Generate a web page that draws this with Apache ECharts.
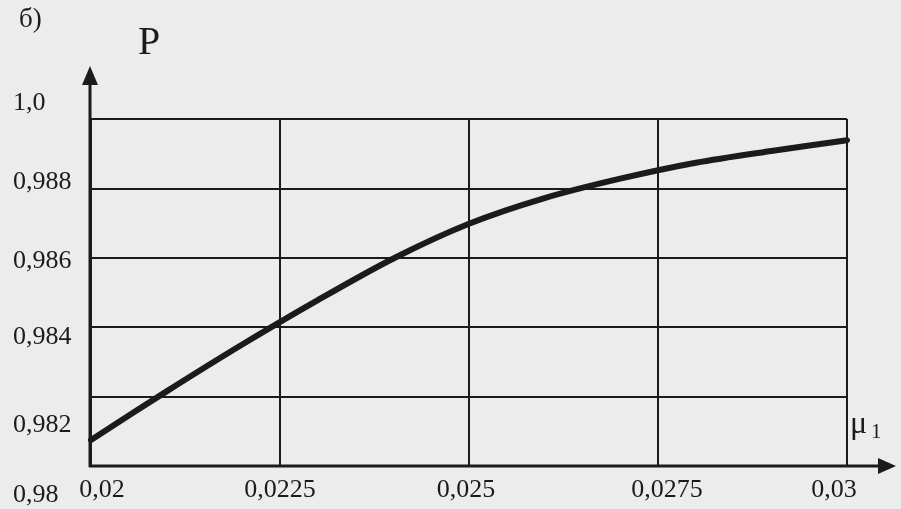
<!DOCTYPE html>
<html>
<head>
<meta charset="utf-8">
<script src="https://cdn.jsdelivr.net/npm/echarts@6/dist/echarts.min.js"></script>
<style>
  html, body { margin: 0; padding: 0; background: #ececec; }
  #chart { width: 901px; height: 509px; }
</style>
</head>
<body>
<div id="chart"></div>
<script>
// Reliability P versus the parameter mu1
const muValues = [0.020, 0.021, 0.022, 0.023, 0.024, 0.025, 0.026, 0.027, 0.028, 0.029, 0.030];
const pValues  = [0.98075, 0.98215, 0.98350, 0.98478, 0.98598, 0.98698, 0.98772, 0.98828, 0.98874, 0.98908, 0.98939];

// Tick labels, as printed
const xTickLabels = ['0,02', '0,0225', '0,025', '0,0275', '0,03'];
const yTickLabels = ['0,98', '0,982', '0,984', '0,986', '0,988', '1,0'];

const X_MIN = 0.02, X_MAX = 0.03, X_STEP = 0.0025;
const Y_MIN = 0.98, Y_MAX = 0.99, Y_STEP = 0.002;

const INK = '#1b1b1b';
const FONT = '"Liberation Serif", "DejaVu Serif", serif';

// per-label nudges (rich text padding) so the labels sit where they were typeset
const yRich = {
  y0: { padding: [58, 0, 0, 0] },
  y1: { padding: [58, 0, 0, 0] },
  y2: { padding: [20, 0, 0, 0] },
  y3: { padding: [6, 0, 0, 0] },
  y4: { padding: [0, 0, 12, 0] },
  y5: { padding: [0, 0, 32, 0] }
};
const xRich = {
  x0: { padding: [0, 0, 0, 22] },
  x1: { padding: [0, 0, 0, 0] },
  x2: { padding: [0, 6, 0, 0] },
  x3: { padding: [0, 0, 0, 18] },
  x4: { padding: [0, 26, 0, 0] }
};

const chart = echarts.init(document.getElementById('chart'), null, { renderer: 'canvas' });

const option = {
  backgroundColor: '#ececec',
  animation: false,
  grid: { left: 91, right: 54, top: 119, bottom: 43, containLabel: false },
  xAxis: {
    type: 'value',
    min: X_MIN, max: X_MAX, interval: X_STEP,
    axisLine: { show: false },
    axisTick: { show: false },
    splitLine: { show: true, lineStyle: { color: INK, width: 2 } },
    axisLabel: {
      show: true, margin: 11, showMinLabel: true, showMaxLabel: true,
      color: INK, fontFamily: FONT, fontSize: 26,
      formatter: v => {
        const i = Math.round((v - X_MIN) / X_STEP);
        return '{x' + i + '|' + xTickLabels[i] + '}';
      },
      rich: xRich
    }
  },
  yAxis: {
    type: 'value',
    min: Y_MIN, max: Y_MAX, interval: Y_STEP,
    axisLine: { show: false },
    axisTick: { show: false },
    splitLine: { show: true, lineStyle: { color: INK, width: 2 } },
    axisLabel: {
      show: true, margin: 78, align: 'left', showMinLabel: true, showMaxLabel: true,
      color: INK, fontFamily: FONT, fontSize: 26,
      formatter: v => {
        const i = Math.round((v - Y_MIN) / Y_STEP);
        return '{y' + i + '|' + yTickLabels[i] + '}';
      },
      rich: yRich
    }
  },
  series: [{
    type: 'line',
    data: muValues.map((m, i) => [m, pValues[i]]),
    smooth: 0.3,
    showSymbol: false,
    lineStyle: { color: INK, width: 6, cap: 'round' }
  }],
  graphic: [
    // vertical axis with arrow
    { type: 'line', shape: { x1: 90, y1: 467, x2: 90, y2: 80 }, style: { stroke: INK, lineWidth: 3 } },
    { type: 'polygon', shape: { points: [[90, 66], [82, 85], [98, 85]] }, style: { fill: INK } },
    // horizontal axis with arrow
    { type: 'line', shape: { x1: 89, y1: 466, x2: 882, y2: 466 }, style: { stroke: INK, lineWidth: 3 } },
    { type: 'polygon', shape: { points: [[896, 466], [878, 458], [878, 474]] }, style: { fill: INK } },
    // axis names and panel letter
    { type: 'text', left: 138, top: 23, style: { text: 'P', font: '40px ' + FONT, fill: INK } },
    { type: 'text', left: 850, top: 409, style: { text: 'μ', font: '32px ' + FONT, fill: INK } },
    { type: 'text', left: 871, top: 422, style: { text: '1', font: '21px ' + FONT, fill: INK } },
    { type: 'text', left: 19, top: 6, style: { text: 'б)', font: '27px ' + FONT, fill: INK } }
  ]
};

chart.setOption(option);
</script>
</body>
</html>
